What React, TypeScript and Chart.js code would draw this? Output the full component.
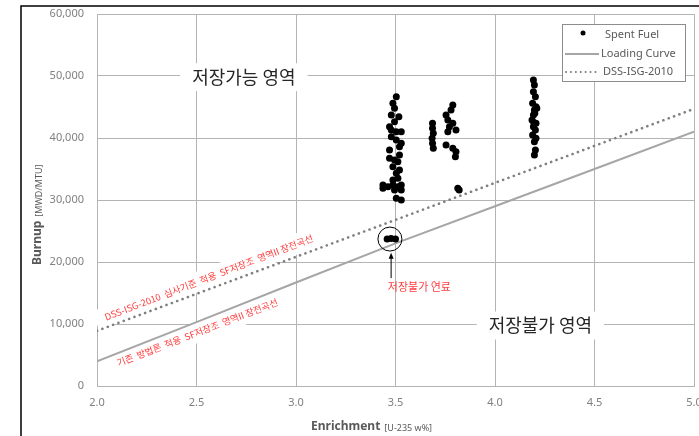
import React, { useEffect, useRef } from 'react';
import { Chart, registerables } from 'chart.js';

Chart.register(...registerables);

// ---- data ----
const spentFuelEnrichment = [
  3.504, 3.487, 3.495, 3.479, 3.517, 3.495, 3.470, 3.479, 3.504, 3.529, 3.479, 3.504, 3.529, 3.520, 3.470, 3.520, 3.470,
  3.495, 3.512, 3.487, 3.520, 3.504, 3.512, 3.487, 3.437, 3.462, 3.487, 3.512, 3.529, 3.437, 3.495, 3.529, 3.504, 3.529,
  3.686, 3.686, 3.690, 3.684, 3.686, 3.690,
  3.788, 3.779, 3.754, 3.763, 3.788, 3.771, 3.804, 3.763, 3.754, 3.788, 3.804, 3.801, 3.813, 3.820,
  4.193, 4.198, 4.193, 4.203, 4.189, 4.206, 4.198, 4.193, 4.186, 4.206, 4.193, 4.203, 4.189, 4.206, 4.198, 4.203, 4.198,
  4.200, 4.210, 4.195,
  3.458, 3.478, 3.500,
];
const spentFuelBurnup = [
  46660, 45590, 44780, 43710, 43440, 42630, 41830, 41290, 41020, 41020, 40210, 39680, 39140, 38600, 38060, 37260, 36720,
  36450, 36180, 35370, 34840, 34300, 33500, 33230, 32420, 32150, 32420, 32150, 32420, 31880, 31610, 31610, 30270, 30000,
  42370, 41560, 40750, 39950, 39140, 38340,
  45320, 44520, 43710, 42900, 42370, 41830, 41290, 41020, 38870, 38340, 37800, 36990, 31880, 31600,
  49350, 48550, 47470, 46660, 45590, 45050, 44520, 43710, 42900, 42370, 41830, 41290, 40480, 39950, 39410, 38060, 37260,
  44000, 44800, 42500,
  23700, 23800, 23700,
];
const loadingEnrichment = [2.0, 2.5, 3.0, 3.5, 4.0, 4.5, 5.0];
const loadingBurnup = [4000, 10300, 16700, 23000, 29000, 35000, 41000];
const dssEnrichment = [2.0, 5.0];
const dssBurnup = [8900, 44700];
const xTickValues = [2.0, 2.5, 3.0, 3.5, 4.0, 4.5, 5.0];
const yTickValues = [0, 10000, 20000, 30000, 40000, 50000, 60000];
const seriesNames = ['Spent Fuel', 'Loading Curve', 'DSS-ISG-2010'];

// annotation anchors (data units)
const zoneLabels = [
  { text: '저장가능 영역', x: 2.738, y: 49800 },
  { text: '저장불가 영역', x: 4.228, y: 9750 },
];
const redLabels = [
  { text: 'DSS-ISG-2010  심사기준  적용  SF저장조  영역II 장전곡선', x: 2.562, y: 17500, angle: -21 },
  { text: '기존  방법론  적용  SF저장조  영역II 장전곡선', x: 2.504, y: 8630, angle: -21 },
];
const circleAnchor = { x: 3.472, y: 23700 };
const arrowAnchor = { x: 3.478, yFrom: 17400, yTo: 21500 };
const noteAnchor = { text: '저장불가 연료', x: 3.62, y: 15950 };

const LATIN = "'Noto Sans', 'Noto Sans CJK KR', sans-serif";
const KR = "'Noto Sans CJK KR', 'Noto Sans', sans-serif";

const overlay = {
  id: 'overlay',
  beforeDatasetsDraw(chart: any) {
    const ctx = chart.ctx;
    const xs = chart.scales.x;
    const ys = chart.scales.y;
    ctx.save();
    ctx.fillStyle = '#ffffff';
    ctx.font = `18px ${KR}`;
    zoneLabels.forEach((l) => {
      const px = xs.getPixelForValue(l.x);
      const py = ys.getPixelForValue(l.y);
      const w = ctx.measureText(l.text).width + 24;
      ctx.fillRect(px - w / 2, py - 14, w, 28);
    });
    ctx.font = `9.3px ${KR}`;
    redLabels.forEach((l) => {
      const px = xs.getPixelForValue(l.x);
      const py = ys.getPixelForValue(l.y);
      const w = ctx.measureText(l.text).width + 20;
      ctx.save();
      ctx.translate(px, py);
      ctx.rotate((l.angle * Math.PI) / 180);
      ctx.fillRect(-w / 2, -10, w, 20);
      ctx.restore();
    });
    ctx.restore();
  },
  afterDatasetsDraw(chart: any) {
    const ctx = chart.ctx;
    const xs = chart.scales.x;
    const ys = chart.scales.y;
    ctx.save();
    ctx.textAlign = 'center';
    ctx.textBaseline = 'middle';
    ctx.fillStyle = '#262626';
    ctx.font = `18px ${KR}`;
    zoneLabels.forEach((l) => {
      ctx.fillText(l.text, xs.getPixelForValue(l.x), ys.getPixelForValue(l.y));
    });
    ctx.fillStyle = '#ff3b3b';
    ctx.font = `9.3px ${KR}`;
    redLabels.forEach((l) => {
      ctx.save();
      ctx.translate(xs.getPixelForValue(l.x), ys.getPixelForValue(l.y));
      ctx.rotate((l.angle * Math.PI) / 180);
      ctx.fillText(l.text, 0, 0);
      ctx.restore();
    });
    // circle
    ctx.strokeStyle = '#000000';
    ctx.lineWidth = 1;
    ctx.beginPath();
    ctx.arc(xs.getPixelForValue(circleAnchor.x), ys.getPixelForValue(circleAnchor.y), 12, 0, Math.PI * 2);
    ctx.stroke();
    // arrow
    const ax = xs.getPixelForValue(arrowAnchor.x);
    const ay1 = ys.getPixelForValue(arrowAnchor.yFrom);
    const ay2 = ys.getPixelForValue(arrowAnchor.yTo);
    ctx.beginPath();
    ctx.moveTo(ax, ay1);
    ctx.lineTo(ax, ay2 + 4);
    ctx.stroke();
    ctx.fillStyle = '#000000';
    ctx.beginPath();
    ctx.moveTo(ax, ay2);
    ctx.lineTo(ax - 2.5, ay2 + 6);
    ctx.lineTo(ax + 2.5, ay2 + 6);
    ctx.closePath();
    ctx.fill();
    // note
    ctx.fillStyle = '#ff3b3b';
    ctx.font = `11px ${KR}`;
    ctx.fillText(noteAnchor.text, xs.getPixelForValue(noteAnchor.x), ys.getPixelForValue(noteAnchor.y));
    ctx.restore();
  },
  afterDraw(chart: any) {
    const ctx = chart.ctx;
    ctx.save();
    // outer frame
    ctx.strokeStyle = '#000000';
    ctx.lineWidth = 1.5;
    ctx.beginPath();
    ctx.moveTo(21, 440);
    ctx.lineTo(21, 6);
    ctx.lineTo(705, 6);
    ctx.stroke();

    // legend
    const lx = 562, ly = 24, lw = 123, lh = 57;
    ctx.fillStyle = '#ffffff';
    ctx.fillRect(lx, ly, lw, lh);
    ctx.strokeStyle = '#8c8c8c';
    ctx.lineWidth = 1;
    ctx.strokeRect(lx + 0.5, ly + 0.5, lw, lh);
    ctx.font = `11px ${LATIN}`;
    ctx.textBaseline = 'middle';
    ctx.textAlign = 'left';
    ctx.fillStyle = '#595959';
    const rows = [35, 54, 72];
    ctx.fillText(seriesNames[0], 605, rows[0]);
    ctx.fillText(seriesNames[1], 601, rows[1]);
    ctx.fillText(seriesNames[2], 603, rows[2]);
    ctx.fillStyle = '#000000';
    ctx.beginPath();
    ctx.arc(583, rows[0] - 2, 2.5, 0, Math.PI * 2);
    ctx.fill();
    ctx.strokeStyle = '#a6a6a6';
    ctx.lineWidth = 2;
    ctx.beginPath();
    ctx.moveTo(565, rows[1]);
    ctx.lineTo(599, rows[1]);
    ctx.stroke();
    ctx.strokeStyle = '#808080';
    ctx.lineWidth = 2;
    ctx.lineCap = 'round';
    ctx.setLineDash([0.1, 4.8]);
    ctx.beginPath();
    ctx.moveTo(566, rows[2]);
    ctx.lineTo(598, rows[2]);
    ctx.stroke();
    ctx.setLineDash([]);
    ctx.lineCap = 'butt';

    // axis titles
    ctx.fillStyle = '#595959';
    ctx.font = `bold 12px ${LATIN}`;
    ctx.textBaseline = 'middle';
    ctx.fillText('Enrichment', 311, 427);
    const ew = ctx.measureText('Enrichment').width;
    ctx.font = `9px ${LATIN}`;
    ctx.fillText('[U-235 w%]', 311 + ew + 4, 428);

    ctx.save();
    ctx.translate(38, 265);
    ctx.rotate(-Math.PI / 2);
    ctx.font = `bold 12px ${LATIN}`;
    ctx.fillText('Burnup', 0, 0);
    const bw = ctx.measureText('Burnup').width;
    ctx.font = `9px ${LATIN}`;
    ctx.fillText('[MWD/MTU]', bw + 4, 1);
    ctx.restore();
    ctx.restore();
  },
};

export default function App() {
  const ref = useRef<HTMLCanvasElement>(null);
  useEffect(() => {
    document.body.style.margin = '0';
    if (!ref.current) return;
    const gridColor = '#b4b4b4';
    const chart = new Chart(ref.current, {
      type: 'scatter',
      data: {
        datasets: [
          {
            label: seriesNames[0],
            data: spentFuelEnrichment.map((x, i) => ({ x, y: spentFuelBurnup[i] })),
            pointRadius: 3.5,
            pointBackgroundColor: '#000000',
            pointBorderWidth: 0,
            showLine: false,
          },
          {
            label: seriesNames[1],
            data: loadingEnrichment.map((x, i) => ({ x, y: loadingBurnup[i] })),
            showLine: true,
            pointRadius: 0,
            borderColor: '#a6a6a6',
            borderWidth: 2,
          },
          {
            label: seriesNames[2],
            data: dssEnrichment.map((x, i) => ({ x, y: dssBurnup[i] })),
            showLine: true,
            pointRadius: 0,
            borderColor: '#808080',
            borderWidth: 2.6,
            borderDash: [0.1, 5.6],
            borderCapStyle: 'round',
          },
        ],
      },
      options: {
        responsive: false,
        animation: false,
        layout: { padding: { left: 0, top: 14, right: 5, bottom: 0 } },
        plugins: { legend: { display: false }, tooltip: { enabled: false } },
        scales: {
          x: {
            type: 'linear',
            min: 2,
            max: 5,
            afterBuildTicks: (s: any) => {
              s.ticks = xTickValues.map((v) => ({ value: v }));
            },
            afterFit: (s: any) => {
              s.height = 50;
              s.paddingLeft = 0;
              s.paddingRight = 0;
            },
            ticks: {
              color: '#808080',
              font: { size: 11, family: LATIN },
              padding: 10,
              maxRotation: 0,
              callback: (v: any) => Number(v).toFixed(1),
            },
            grid: { color: gridColor, drawTicks: false },
            border: { color: gridColor },
          },
          y: {
            type: 'linear',
            min: 0,
            max: 60000,
            afterBuildTicks: (s: any) => {
              s.ticks = yTickValues.map((v) => ({ value: v }));
            },
            afterFit: (s: any) => {
              s.width = 97;
              s.paddingTop = 0;
              s.paddingBottom = 0;
            },
            ticks: {
              color: '#808080',
              font: { size: 11, family: LATIN },
              padding: 13,
              callback: (v: any) => Number(v).toLocaleString('en-US'),
            },
            grid: { color: gridColor, drawTicks: false },
            border: { color: gridColor },
          },
        },
      },
      plugins: [overlay],
    } as any);
    return () => chart.destroy();
  }, []);
  return (
    <div style={{ width: 699, height: 436, background: '#ffffff' }}>
      <canvas ref={ref} width={699} height={436} style={{ display: 'block' }} />
    </div>
  );
}
